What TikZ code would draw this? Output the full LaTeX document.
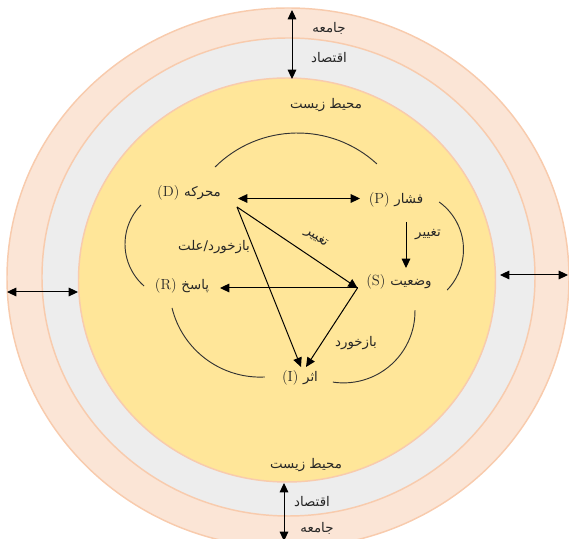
\documentclass[tikz,border=0pt]{standalone}
\usepackage{fontspec}
\newfontfamily\arabicfont[Script=Arabic]{DejaVu Sans}
\TeXXeTstate=1
\usetikzlibrary{arrows.meta}
\definecolor{ringpeach}{HTML}{FBE5D6}
\definecolor{ringgray}{HTML}{EDEDED}
\definecolor{ringgold}{HTML}{FFE699}
\definecolor{ringedge}{HTML}{F8CBAD}
\definecolor{txtgray}{HTML}{262626}
\newcommand{\fa}[1]{{\arabicfont\fontsize{10}{12}\selectfont\beginR #1\endR}}

\tikzset{
  ring/.style={draw=ringedge, line width=1.1pt},
  lbl/.style={font=\fontsize{11}{12}\selectfont, text=txtgray, inner sep=1pt},
  stage/.style={lbl},
  flow/.style={line width=0.75pt, -{Triangle[length=7pt,width=6.5pt]}},
  twoway/.style={line width=0.75pt, {Triangle[length=7pt,width=6.5pt]}-{Triangle[length=7pt,width=6.5pt]}},
  cyclearc/.style={line width=0.7pt, draw=black!80},
}

\begin{document}
\begin{tikzpicture}[x=0.75pt,y=0.75pt]
  \useasboundingbox (0,0) rectangle (569,539);
  \clip (0,0) rectangle (569,539);
  % rings
  \filldraw[ring, fill=ringpeach] (288,261) ellipse [x radius=281, y radius=270];
  \filldraw[ring, fill=ringgray] (288.5,262) ellipse [x radius=246.5, y radius=239];
  \filldraw[ring, fill=ringgold] (287,259) ellipse [x radius=208.5, y radius=202];
  % ring labels
  \node[lbl] (soc1) at (329,511) {\fa{جامعه}};
  \node[lbl] (eco1) at (329,481) {\fa{اقتصاد}};
  \node[lbl] (env1) at (326,434) {\fa{محیط زیست}};
  \node[lbl] (env2) at (306,74) {\fa{محیط زیست}};
  \node[lbl] (eco2) at (312,37) {\fa{اقتصاد}};
  \node[lbl] (soc2) at (317,11) {\fa{جامعه}};
  % ring arrows
  \coordinate (topA) at (292,529);
  \coordinate (topB) at (292,460);
  \coordinate (botA) at (284,56);
  \coordinate (botB) at (284,-2);
  \coordinate (lftA) at (7,247);
  \coordinate (lftB) at (78,247);
  \coordinate (rgtA) at (500,264);
  \coordinate (rgtB) at (568,264);
  \draw[twoway] (topA) -- (topB);
  \draw[twoway] (botA) -- (botB);
  \draw[twoway] (lftA) -- (lftB);
  \draw[twoway] (rgtA) -- (rgtB);
  % DPSIR stages
  \node[stage] (D) at (189,346) {(D) \fa{محرکه}};
  \node[stage] (P) at (396,339) {(P) \fa{فشار}};
  \node[stage] (S) at (399,257) {(S) \fa{وضعیت}};
  \node[stage] (R) at (182,253) {(R) \fa{پاسخ}};
  \node[stage] (I) at (300,161) {(I) \fa{اثر}};
  % cycle arcs
  \draw[cyclearc] (297.6,288.8) ++(134.8:117.2) arc[start angle=134.8, end angle=47.4, radius=117.2];
  \draw[cyclearc] (405,289.5) ++(54.3:58.5) arc[start angle=54.3, end angle=-43.9, radius=58.5];
  \draw[cyclearc] (180.7,294.9) ++(135.4:55.7) arc[start angle=135.4, end angle=228.8, radius=55.7];
  \draw[cyclearc] (260.2,252.7) ++(193.8:90.8) arc[start angle=193.8, end angle=273, radius=90.8];
  \draw[cyclearc] (343.5,227.6) ++(1.1:71.5) arc[start angle=1.1, end angle=-98.5, radius=71.5];
  % connector ends
  \coordinate (Dhub) at (237,332);
  \coordinate (Dend) at (238,340.5);
  \coordinate (Pend) at (360,340.5);
  \coordinate (Pout) at (406,317);
  \coordinate (Sin) at (406,271);
  \coordinate (Shub) at (357.5,251);
  \coordinate (Rin) at (220,251);
  \coordinate (IinD) at (301,172);
  \coordinate (IinS) at (306,172);
  % connectors
  \draw[twoway] (Dend) -- (Pend);
  \draw[flow] (Pout) -- (Sin);
  \draw[flow] (Dhub) -- (Shub);
  \draw[flow] (Dhub) -- (IinD);
  \draw[flow] (Shub) -- (IinS);
  \draw[flow] (Shub) -- (Rin);
  % connector labels
  \node[lbl] (chgPS) at (428,304) {\fa{تغییر}};
  \node[lbl, rotate=-33.5] (chgDS) at (316,301) {\fa{تغییر}};
  \node[lbl] (fbSI) at (356,196) {\fa{بازخورد}};
  \node[lbl] (fbDR) at (214,292) {\fa{بازخورد/علت}};
\end{tikzpicture}
\end{document}
